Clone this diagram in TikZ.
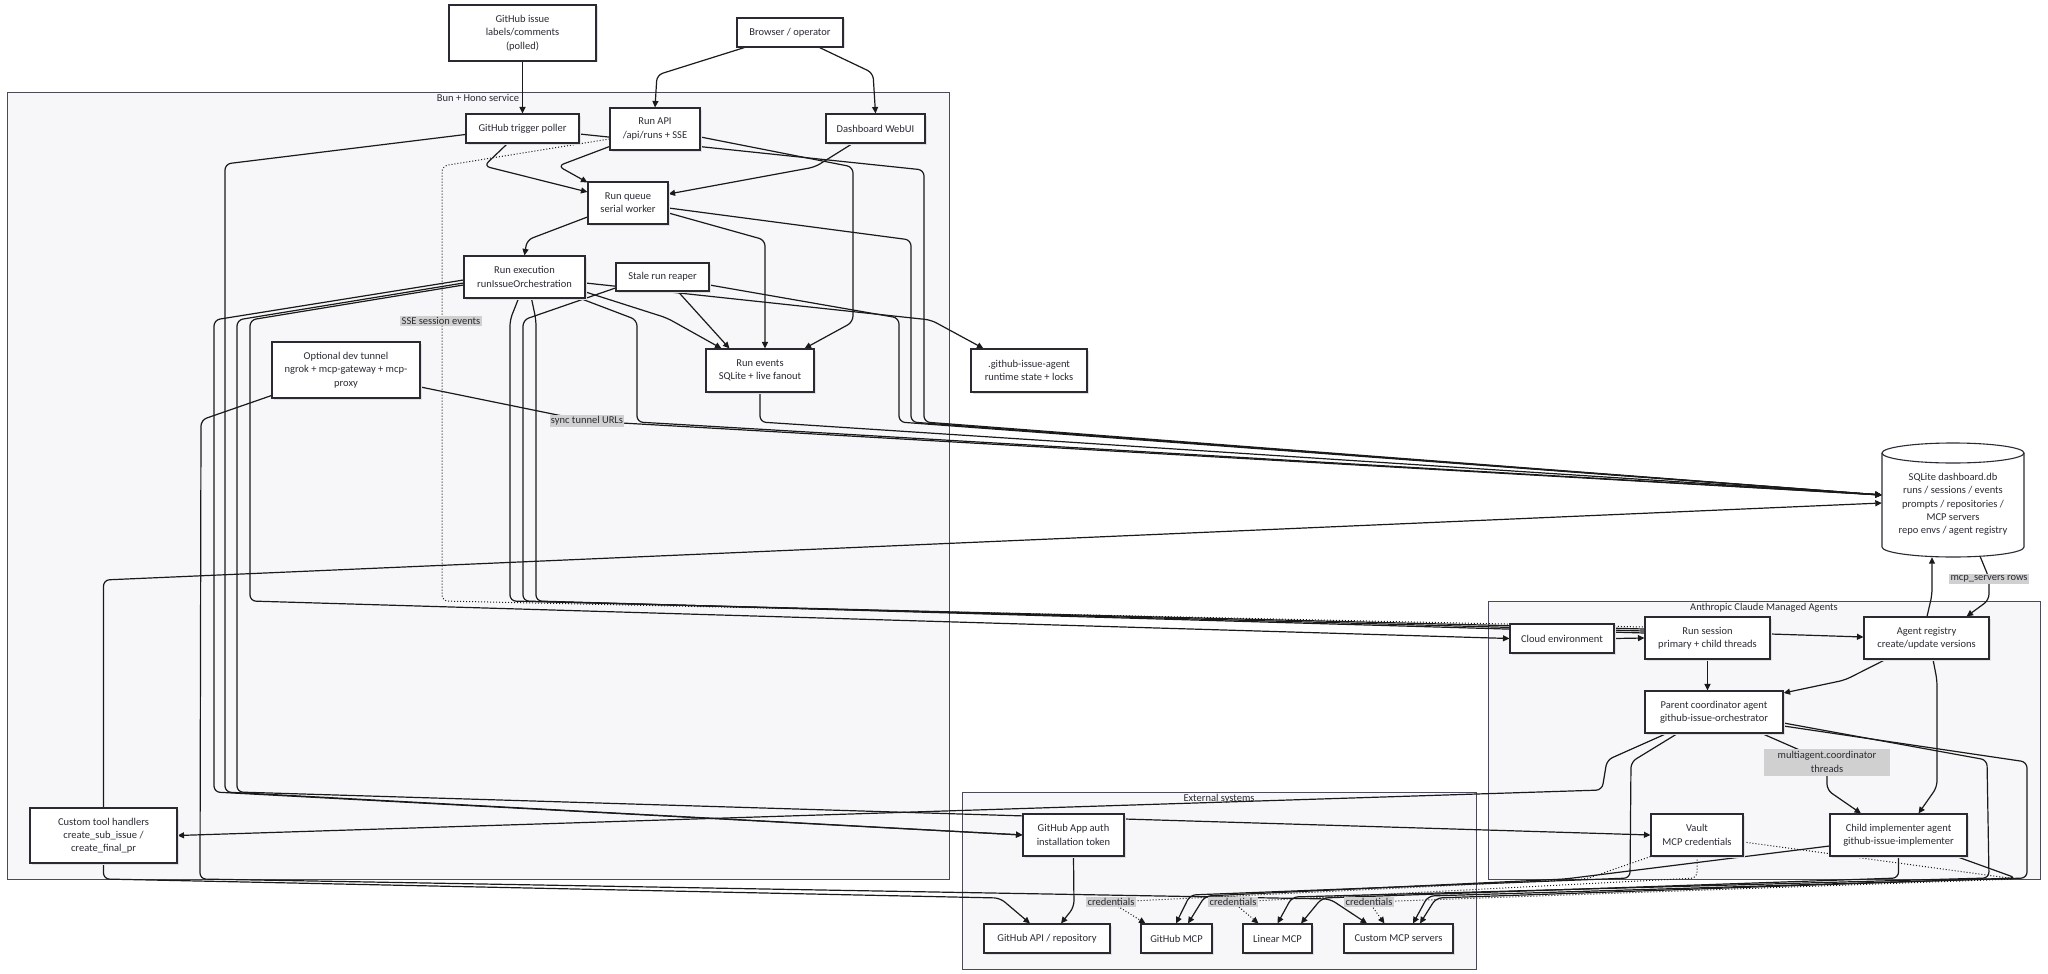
\documentclass[tikz,border=0pt]{standalone}
\usepackage{fontspec}
\setmainfont{Carlito}
\usetikzlibrary{arrows.meta,calc,shadows}
\definecolor{ink}{HTML}{2A2A33}
\definecolor{edgec}{HTML}{1A1A1A}
\definecolor{cfill}{HTML}{F7F7F9}
\definecolor{cline}{HTML}{4A4A5A}
\definecolor{lblbg}{HTML}{D0D0D0}
\pgfdeclarelayer{bg}
\pgfdeclarelayer{edges}
\pgfsetlayers{bg,edges,main}
\tikzset{
  nbox/.style={draw=ink, line width=1.1pt, fill=white, text=ink, align=center, inner sep=0pt,
    font=\fontsize{10.5}{13.3}\selectfont,
    drop shadow={shadow xshift=1.5pt, shadow yshift=-1.5pt, fill=black!12, opacity=1}},
  bx/.style 2 args={nbox, minimum width=#1pt, minimum height=#2pt},
  conn/.style={draw=edgec, line width=1.2pt, rounded corners=6pt},
  arr/.style={conn, -{Triangle[length=6.5pt,width=6pt]}},
  dotc/.style={draw=edgec, line width=1pt, dotted, rounded corners=6pt},
  darr/.style={dotc, -{Triangle[length=6.5pt,width=6pt]}},
  lbl/.style={fill=lblbg, text=ink, inner sep=1.2pt, font=\fontsize{10.5}{12}\selectfont},
  cont/.style={draw=cline, line width=1pt, fill=cfill},
  ctitle/.style={text=ink, font=\fontsize{10.5}{12}\selectfont, anchor=north, inner sep=1pt}
}
\begin{document}
\begin{tikzpicture}[x=1pt,y=-1pt]
\useasboundingbox (0,0) rectangle (2048,974);
\begin{pgfonlayer}{bg}
\fill[white] (0,0) rectangle (2048,974);
\draw[cont] (7.5,92) rectangle (949,879);
\node[ctitle] at (478,93) {Bun + Hono service};
\draw[cont] (1488,601) rectangle (2040,879);
\node[ctitle] at (1764,602) {Anthropic Claude Managed Agents};
\draw[cont] (962,792) rectangle (1476,969);
\node[ctitle] at (1219,793) {External systems};
\end{pgfonlayer}

% nodes
\node[bx={147}{56}] (issue) at (522.5,33) {GitHub issue\\labels/comments\\(polled)};
\node[bx={106}{29}] (browser) at (790,32.5) {Browser / operator};
\node[bx={113}{29}] (poller) at (522.5,128.5) {GitHub trigger poller};
\node[bx={90}{42}] (api) at (655,129) {Run API\\/api/runs + SSE};
\node[bx={99}{29}] (webui) at (875.5,128.5) {Dashboard WebUI};
\node[bx={80}{42}] (queue) at (628,203) {Run queue\\serial worker};
\node[bx={121}{42}] (exec) at (524.5,277) {Run execution\\runIssueOrchestration};
\node[bx={93}{28}] (reaper) at (662.5,277) {Stale run reaper};
\node[bx={108}{43}] (events) at (760,370.5) {Run events\\SQLite + live fanout};
\node[bx={116}{43}] (state) at (1029,370.5) {.github-issue-agent\\runtime state + locks};
\node[bx={148}{56}] (tunnel) at (346,370) {Optional dev tunnel\\ngrok + mcp-gateway + mcp-\\proxy};
\node[bx={147}{55}] (tools) at (103.5,835.5) {Custom tool handlers\\create\_sub\_issue /\\create\_final\_pr};
\node[inner sep=0pt, minimum width=142pt, minimum height=114pt] (db) at (1953,500) {};
\draw[draw=ink, line width=1.1pt, fill=white] (1882,453) -- (1882,547)
  arc[start angle=180, end angle=360, x radius=71pt, y radius=10pt] -- (2024,453)
  arc[start angle=0, end angle=180, x radius=71pt, y radius=10pt] -- cycle;
\draw[draw=ink, line width=1.1pt] (1882,453) arc[start angle=180, end angle=360, x radius=71pt, y radius=10pt];
\node[text=ink, align=center, font=\fontsize{10.5}{13.3}\selectfont] at (1953,504.5)
  {SQLite dashboard.db\\runs / sessions / events\\prompts / repositories /\\MCP servers\\repo envs / agent registry};
\node[bx={104}{29}] (cloud) at (1562,638.5) {Cloud environment};
\node[bx={125}{42}] (session) at (1707.5,638) {Run session\\primary + child threads};
\node[bx={125}{42}] (registry) at (1926.5,638) {Agent registry\\create/update versions};
\node[bx={138}{42}] (parent) at (1714,712) {Parent coordinator agent\\github-issue-orchestrator};
\node[bx={92}{42}] (vault) at (1697,835) {Vault\\MCP credentials};
\node[bx={137}{42}] (child) at (1898.5,835) {Child implementer agent\\github-issue-implementer};
\node[bx={101}{42}] (appauth) at (1073.5,835) {GitHub App auth\\installation token};
\node[bx={126}{29}] (ghapi) at (1047,938.5) {GitHub API / repository};
\node[bx={71}{29}] (ghmcp) at (1176.5,938.5) {GitHub MCP};
\node[bx={69}{29}] (linmcp) at (1277.5,938.5) {Linear MCP};
\node[bx={109}{29}] (custmcp) at (1398.5,938.5) {Custom MCP servers};

\begin{pgfonlayer}{edges}
% top
\draw[arr] (issue.south) -- (poller.north);
\draw[arr] ($(browser.south west)+(8,0)$) -- (657,75) -- (api.north);
\draw[arr] ($(browser.south east)+(-24,0)$) -- (873,73) -- (webui.north);
\draw[arr] ($(poller.south)+(-15,0)$) -- (484,166) -- ($(queue.west)+(0,-11)$);
\draw[arr] ($(api.south west)+(0,-4)$) -- (558,166) -- ($(queue.north west)+(0,1)$);
\draw[arr] ($(webui.south)+(-23,0)$) -- (815,167) -- ($(queue.east)+(0,-9)$);
\draw[arr] ($(queue.west)+(0,14)$) -- (527,240) -- (exec.north);
\draw[arr] ($(queue.east)+(0,10)$) -- (765,240) -- ($(events.north)+(5,0)$);
\draw[arr] ($(api.east)+(0,8)$) -- (853,167) -- (853,322) -- ($(events.north east)+(-10,0)$);
% to db
\draw[arr] ($(poller.east)+(0,5.5)$) -- (924,170) -- (924,422) -- ($(db.west)+(0,-5)$);
\draw[arr] ($(queue.east)+(0,5)$) -- (911,240) -- (911,422) -- ($(db.west)+(0,-5)$);
\draw[arr] ($(reaper.east)+(0,8)$) -- (899,318) -- (899,422) -- ($(db.west)+(0,-5)$);
\draw[arr] ($(exec.south east)+(-5,0)$) -- (637,320) -- (637,422) -- ($(db.west)+(0,-5)$);
\draw[arr] (events.south) -- (760,422) -- ($(db.west)+(0,-5)$);
\draw[arr] ($(tunnel.east)+(0,17)$) -- (587,421) -- ($(db.west)+(0,-5)$);
\draw[arr] (tools.north) -- (103.5,580) -- ($(db.west)+(0,3)$);
% exec / reaper
\draw[arr] ($(exec.east)+(0,6)$) -- (931,320) -- ($(state.north west)+(13,0)$);
\draw[arr] ($(exec.east)+(0,15)$) -- (667,318) -- ($(events.north west)+(16,0)$);
\draw[arr] ($(reaper.south)+(15.5,0)$) -- ($(events.north west)+(24,0)$);
% SSE
\draw[dotc] ($(api.west)+(0,10)$) -- (442,166) -- (442,601) -- ($(session.west)+(0,-11)$);
% to cloud / session
\draw[arr] ($(exec.west)+(0,8)$) -- (250,320) -- (250,601) -- (cloud.west);
\draw[conn] ($(exec.south)+(-6,0)$) -- (510,320) -- (510,601) -- ($(session.west)+(0,-9)$);
\draw[conn] ($(reaper.west)+(0,11)$) -- (523,320) -- (523,601) -- ($(session.west)+(0,-7)$);
\draw[conn] ($(exec.south)+(7,0)$) -- (536,320) -- (536,601) -- ($(session.west)+(0,-5)$);
% to app auth / vault
\draw[arr] ($(exec.west)+(0,3)$) -- (214,320) -- (214,792) -- (appauth.west);
\draw[arr] ($(poller.west)+(0,6)$) -- (225,164) -- (225,792) -- (appauth.west);
\draw[arr] ($(exec.west)+(0,6)$) -- (237,320) -- (237,792) -- (vault.west);
% parent -> tools
\draw[arr] ($(parent.south west)+(22,0)$) -- (1607,760) -- (1602,790) -- (tools.east);
% to MCPs
\draw[arr] ($(parent.south west)+(33,0)$) -- (1631,762) -- (1630,878) -- (1190,895) -- ($(ghmcp.north)+(-0.5,0)$);
\draw[arr] ($(child.west)+(0,11)$) -- (1565,879) -- (1205,896) -- ($(ghmcp.north)+(11.5,0)$);
\draw[arr] ($(parent.east)+(0,11)$) -- (1987,760) -- (1989,878) -- (1292,897) -- (linmcp.north);
\draw[arr] (child.south) -- (1898.5,878) -- (1322,898) -- ($(linmcp.north)+(23.5,0)$);
\draw[arr] ($(parent.east)+(0,14)$) -- (2027,762) -- (2027,878) -- (1428,896) -- ($(custmcp.north)+(14.5,0)$);
\draw[arr] ($(child.south east)+(-11,0)$) -- (2016,878) -- (1436,898) -- ($(custmcp.north)+(21.5,0)$);
\draw[darr] (vault.south west) -- (1586,879) -- (1111,902) -- ($(ghmcp.north west)+(5,0)$);
\draw[darr] (vault.south) -- (1697,878) -- (1233,902) -- ($(linmcp.north west)+(16,0)$);
\draw[darr] ($(vault.east)+(0,7)$) -- (2016,879) -- (1369,902) -- ($(custmcp.north west)+(41,0)$);
% left side to external
\draw[arr] (tools.south) -- (103.5,879) -- (1000,898) -- ($(ghapi.north)+(-17,0)$);
\draw[arr] ($(tunnel.south west)+(0,-3)$) -- (201,420) -- (200,879) -- (1330,899) -- ($(custmcp.north)+(-31.5,0)$);
\draw[arr] (appauth.south) -- (1074,907) -- ($(ghapi.north)+(14,0)$);
% db <-> registry
\draw[arr] ($(registry.north)+(0.5,0)$) -- (1932,595) -- ($(db.south)+(-21,0)$);
\draw[arr] ($(db.south)+(27,-1)$) -- (1989,578) -- (1989,600) -- ($(registry.north east)+(-23,0)$);
% anthropic internal
\draw[arr] (cloud.east) -- (session.west);
\draw[arr] ($(session.east)+(0,-4)$) -- ($(registry.west)+(0,-1)$);
\draw[arr] (session.south) -- (session.south |- parent.north);
\draw[arr] ($(registry.south west)+(22,0)$) -- (1845,680) -- ($(parent.east)+(0,-19)$);
\draw[arr] ($(registry.south)+(6.5,0)$) -- (1937,680) -- (1937,787) -- ($(child.north)+(20,0)$);
\draw[arr] ($(parent.south)+(48,0)$) -- (1827,762) -- (1827,790) -- ($(child.north)+(-37.5,0)$);
\end{pgfonlayer}

% edge labels
\node[lbl] (l1) at (441,321) {SSE session events};
\node[lbl] (l2) at (587,421) {sync tunnel URLs};
\node[lbl] (l3) at (1989,579) {mcp\_servers rows};
\node[lbl, align=center, minimum width=126pt, minimum height=27pt, font=\fontsize{10.5}{13.3}\selectfont] (l4) at (1827,762) {multiagent.coordinator\\threads};
\node[lbl] (l5) at (1111,902) {credentials};
\node[lbl] (l6) at (1233,902) {credentials};
\node[lbl] (l7) at (1369,902) {credentials};
\end{tikzpicture}
\end{document}
